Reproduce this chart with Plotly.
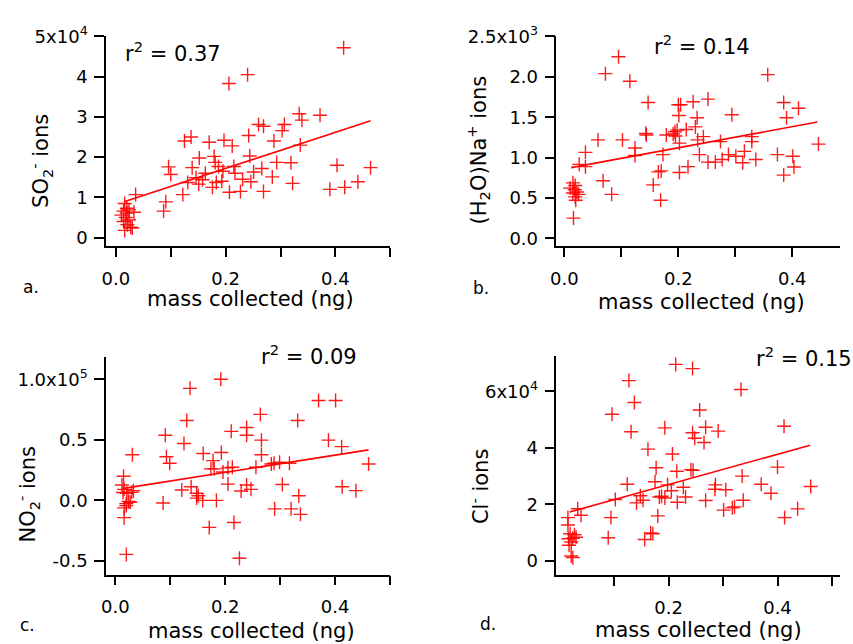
import plotly.graph_objects as go

W, H = 853, 644

# ---------------- data ----------------
a_x = [0.016, 0.020, 0.014, 0.024, 0.033, 0.010, 0.018, 0.024, 0.014, 0.021, 0.030, 0.016, 0.027, 0.020,
       0.036, 0.087, 0.091, 0.096, 0.100, 0.122, 0.125, 0.137, 0.131, 0.139, 0.146, 0.152, 0.151, 0.158,
       0.163, 0.170, 0.176, 0.179, 0.181, 0.183, 0.187, 0.193, 0.197, 0.195, 0.206, 0.207, 0.212, 0.215,
       0.217, 0.227, 0.231, 0.240, 0.415, 0.242, 0.260, 0.269, 0.307, 0.303, 0.334, 0.339, 0.372, 0.288,
       0.336, 0.244, 0.293, 0.319, 0.251, 0.266, 0.246, 0.285, 0.269, 0.322, 0.403, 0.464, 0.390, 0.417, 0.441]
a_y = [8500, 7300, 6600, 6900, 6300, 5600, 5000, 4400, 4000, 3200, 2400, 1800, 2600, 6100,
       10700, 6600, 8900, 17600, 15700, 10700, 24000, 25000, 13700, 17400, 14900, 19800, 13300, 14400,
       16000, 23700, 12500, 20200, 18700, 13700, 17700, 14000, 24200, 16500, 38300, 11300, 22800, 17700,
       16000, 11500, 14500, 40500, 47200, 25400, 28100, 27700, 28100, 26600, 30800, 29200, 30400, 24000,
       23000, 20300, 18700, 18600, 16300, 17200, 13900, 15100, 11500, 13500, 18000, 17400, 12000, 12500, 13900]
a_fit_x = [0.015, 0.464]
a_fit_y = [8900, 29050]

b_x = [0.015, 0.019, 0.010, 0.018, 0.022, 0.015, 0.025, 0.019, 0.020, 0.016, 0.026, 0.037, 0.037, 0.059,
       0.068, 0.083, 0.072, 0.095, 0.115, 0.102, 0.124, 0.124, 0.147, 0.143, 0.144, 0.156, 0.165, 0.170,
       0.169, 0.173, 0.179, 0.191, 0.195, 0.194, 0.200, 0.204, 0.201, 0.202, 0.198, 0.202, 0.217, 0.214,
       0.226, 0.230, 0.233, 0.234, 0.237, 0.252, 0.244, 0.252, 0.265, 0.274, 0.277, 0.288, 0.294, 0.301,
       0.313, 0.316, 0.329, 0.329, 0.336, 0.357, 0.374, 0.385, 0.390, 0.385, 0.401, 0.403, 0.411, 0.446]
b_y = [687, 654, 622, 602, 574, 562, 545, 513, 472, 251, 916, 888, 1065, 1219,
       714, 545, 2039, 2248, 1946, 1219, 1118, 1025, 1683, 1300, 1280, 662, 823, 835,
       472, 1037, 1279, 1292, 1267, 1319, 1655, 1655, 1522, 1179, 1340, 816, 888, 1348,
       1691, 1380, 1494, 1219, 1037, 1724, 1259, 944, 944, 1198, 977, 1037, 1530, 1017,
       937, 1077, 1259, 1198, 977, 2027, 1037, 1683, 1494, 783, 1017, 884, 1610, 1167]
b_fit_x = [0.012, 0.444]
b_fit_y = [876, 1441]

c_x = [0.015, 0.012, 0.016, 0.014, 0.021, 0.030, 0.033, 0.024, 0.020, 0.027, 0.016, 0.020, 0.016, 0.020,
       0.031, 0.087, 0.091, 0.093, 0.099, 0.130, 0.136, 0.125, 0.121, 0.138, 0.148, 0.151, 0.148, 0.159,
       0.160, 0.171, 0.178, 0.174, 0.180, 0.184, 0.192, 0.193, 0.196, 0.205, 0.213, 0.211, 0.205, 0.216,
       0.229, 0.226, 0.239, 0.239, 0.239, 0.264, 0.266, 0.266, 0.256, 0.284, 0.289, 0.299, 0.317, 0.332,
       0.370, 0.401, 0.388, 0.412, 0.461, 0.247, 0.304, 0.334, 0.290, 0.320, 0.337, 0.413, 0.438]
c_y = [19900, 12650, 9100, 6450, 5900, 6700, 8050, -800, -2700, -1600, -6200, -4300, -14250, -44600,
       37650, -2150, 53800, 36050, 30650, 65900, 92500, 47000, 8600, 11300, 5900, 3800, 1900, 0,
       38700, -22300, 32800, 26050, 26050, 0, 100000, 39500, 23400, 26850, 27400, 57000, 13450, -18300,
       7800, -47800, 60200, 53800, 12650, 71000, 49750, 37650, 27400, 30100, 30650, 31450, 30650, 65900,
       82500, 82500, 49750, 44350, 30100, 9100, 13150, 3800, -7000, -7000, -11550, 11300, 8050]
c_fit_x = [0.015, 0.461]
c_fit_y = [9920, 41700]

d_x = [0.015, 0.015, 0.019, 0.027, 0.016, 0.024, 0.030, 0.021, 0.017, 0.021, 0.024, 0.033, 0.039, 0.089,
       0.094, 0.096, 0.102, 0.124, 0.127, 0.131, 0.137, 0.141, 0.148, 0.153, 0.156, 0.162, 0.167, 0.171,
       0.175, 0.177, 0.180, 0.183, 0.187, 0.193, 0.193, 0.198, 0.205, 0.207, 0.213, 0.216, 0.215, 0.227,
       0.231, 0.241, 0.244, 0.244, 0.248, 0.245, 0.257, 0.268, 0.265, 0.291, 0.333, 0.412, 0.335, 0.400,
       0.286, 0.285, 0.305, 0.370, 0.388, 0.461, 0.268, 0.337, 0.301, 0.317, 0.321, 0.437, 0.413]
d_y = [15250, 12600, 9500, 9150, 7750, 7950, 8300, 6600, 5450, 1650, 1050, 18400, 16100, 8100,
       15250, 51900, 21650, 27050, 63800, 45650, 56050, 20450, 23000, 21400, 7500, 39500, 9850, 9500,
       27950, 32900, 15850, 22550, 22800, 22200, 47050, 26850, 24750, 37800, 69550, 20700, 31700, 26000,
       22550, 32250, 45300, 68050, 43350, 32000, 53400, 47250, 41850, 45900, 60650, 47600, 29950, 33150,
       26850, 25300, 25100, 27050, 23900, 26250, 21300, 21400, 17900, 18700, 19050, 18350, 15250]
d_fit_x = [0.018, 0.460]
d_fit_y = [17230, 40900]

x_title = "mass collected (ng)"
y_titles = ["SO<sub>2</sub><sup>-</sup> ions", "(H<sub>2</sub>O)Na<sup>+</sup> ions",
            "NO<sub>2</sub><sup>-</sup> ions", "Cl<sup>-</sup> ions"]
r2_texts = ["r<sup>2</sup> = 0.37", "r<sup>2</sup> = 0.14", "r<sup>2</sup> = 0.09", "r<sup>2</sup> = 0.15"]
panel_labels = ["a.", "b.", "c.", "d."]

a_xticks = [0.0, 0.1, 0.2, 0.3, 0.4, 0.5]
a_xtext = ["0.0", "", "0.2", "", "0.4", ""]
b_xticks = [0.0, 0.1, 0.2, 0.3, 0.4]
b_xtext = ["0.0", "", "0.2", "", "0.4"]
c_xticks = a_xticks
c_xtext = a_xtext
d_xticks = [0.1, 0.2, 0.3, 0.4, 0.5]
d_xtext = ["", "0.2", "", "0.4", ""]

a_yticks = [0, 10000, 20000, 30000, 40000, 50000]
a_ytext = ["0", "1", "2", "3", "4", "5x10<sup>4</sup>"]
b_yticks = [0, 500, 1000, 1500, 2000, 2500]
b_ytext = ["0.0", "0.5", "1.0", "1.5", "2.0", "2.5x10<sup>3</sup>"]
c_yticks = [-50000, 0, 50000, 100000]
c_ytext = ["-0.5", "0.0", "0.5", "1.0x10<sup>5</sup>"]
d_yticks = [0, 20000, 40000, 60000]
d_ytext = ["0", "2", "4", "6x10<sup>4</sup>"]

# ---------------- layout helpers ----------------
FONT = "DejaVu Sans"
RED = "rgba(255,0,0,0.9)"

def px(x):
    return x / W

def py(y):
    return 1 - y / H

panels = [
    dict(x=a_x, y=a_y, fx=a_fit_x, fy=a_fit_y, xt=a_xticks, xtt=a_xtext, yt=a_yticks, ytt=a_ytext,
         dom=(100.7, 387, 24, 239), xr=[-0.018, 0.5], yr=[-2180, 50000]),
    dict(x=b_x, y=b_y, fx=b_fit_x, fy=b_fit_y, xt=b_xticks, xtt=b_xtext, yt=b_yticks, ytt=b_ytext,
         dom=(554.3, 840, 24, 239), xr=[-0.014, 0.484], yr=[-100, 2500]),
    dict(x=c_x, y=c_y, fx=c_fit_x, fy=c_fit_y, xt=c_xticks, xtt=c_xtext, yt=c_yticks, ytt=c_ytext,
         dom=(100.7, 386.7, 351.7, 575), xr=[-0.017, 0.5], yr=[-61290, 118800]),
    dict(x=d_x, y=d_y, fx=d_fit_x, fy=d_fit_y, xt=d_xticks, xtt=d_xtext, yt=d_yticks, ytt=d_ytext,
         dom=(554.3, 840, 350.7, 575.7), xr=[-0.0062, 0.515], yr=[-5200, 72690]),
]

fig = go.Figure()
layout = dict(
    width=W, height=H, margin=dict(l=0, r=0, t=0, b=0),
    paper_bgcolor="white", plot_bgcolor="white", showlegend=False,
    font=dict(family=FONT, color="black", size=18),
)

for i, p in enumerate(panels, start=1):
    sx = "" if i == 1 else str(i)
    fig.add_trace(go.Scatter(
        x=p["x"], y=p["y"], mode="markers", xaxis="x" + sx, yaxis="y" + sx,
        marker=dict(symbol="cross-thin", size=10, line=dict(width=1.4, color=RED)),
    ))
    fig.add_trace(go.Scatter(
        x=p["fx"], y=p["fy"], mode="lines", xaxis="x" + sx, yaxis="y" + sx,
        line=dict(color="rgb(255,0,0)", width=1.6),
    ))
    x0, x1, y0, y1 = p["dom"]
    common = dict(showline=True, linecolor="black", linewidth=1.5, ticks="outside",
                  tickwidth=1.5, tickcolor="black", showgrid=False, zeroline=False,
                  tickfont=dict(family=FONT, size=18, color="black"), tickmode="array")
    layout["xaxis" + sx] = dict(domain=[px(x0), px(x1)], range=p["xr"], anchor="y" + sx,
                                tickvals=p["xt"], ticktext=p["xtt"], ticklen=9,
                                ticklabelstandoff=6, **common)
    layout["yaxis" + sx] = dict(domain=[py(y1), py(y0)], range=p["yr"], anchor="x" + sx,
                                tickvals=p["yt"], ticktext=p["ytt"], ticklen=10,
                                ticklabelstandoff=3, **common)

annotations = []
# x titles (center x, center y)
for cx, cy in [(245.8, 293), (700.8, 296), (247.5, 632.7), (697.5, 631.7)]:
    annotations.append(dict(text=x_title, x=px(cx), y=py(cy), xref="paper", yref="paper",
                            xanchor="center", yanchor="middle", showarrow=False,
                            font=dict(family=FONT, size=21)))
# y titles
for t, (cx, cy) in zip(y_titles, [(35, 151.7), (475, 140), (21.7, 492.5), (476.7, 485)]):
    annotations.append(dict(text=t, x=px(cx), y=py(cy), xref="paper", yref="paper",
                            xanchor="center", yanchor="middle", showarrow=False, textangle=-90,
                            font=dict(family=FONT, size=21)))
# r^2
for t, (lx, cy) in zip(r2_texts, [(118, 40), (651, 33), (255, 350), (753, 352)]):
    annotations.append(dict(text=t, x=px(lx), y=py(cy), xref="paper", yref="paper",
                            xanchor="left", yanchor="middle", showarrow=False,
                            font=dict(family=FONT, size=21)))
# panel labels
for t, (lx, cy) in zip(panel_labels, [(15, 281), (468, 282), (11.7, 626.7), (475, 626)]):
    annotations.append(dict(text=t, x=px(lx), y=py(cy), xref="paper", yref="paper",
                            xanchor="left", yanchor="middle", showarrow=False,
                            font=dict(family=FONT, size=17)))

layout["annotations"] = annotations
fig.update_layout(**layout)
fig.write_html("out.html", config={"displayModeBar": False},
               post_script="document.body.style.margin='0';document.body.style.overflow='hidden';")
